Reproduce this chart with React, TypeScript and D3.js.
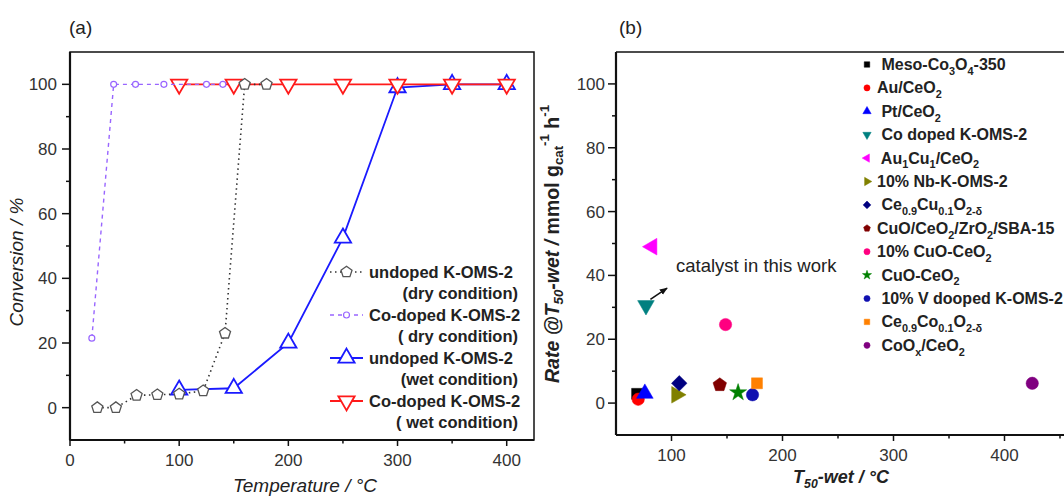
import React from 'react';
import * as d3 from 'd3';

// panel (a): conversion vs temperature
const tempUndopedDry = [25, 42, 61, 80, 100, 122, 142, 160, 180];
const convUndopedDry = [0, 0, 3.8, 4, 4.2, 5.2, 23, 100, 100];
const tempCoDry = [20, 40, 60, 86, 125, 140];
const convCoDry = [21.5, 100, 100, 100, 100, 100];
const tempWet = [100, 150, 200, 250, 300, 350, 400];
const convUndopedWet = [5.5, 6, 20, 52.5, 99, 100, 100];
const convCoWet = [100, 100, 100, 100, 100, 100, 100];

const tempTicksA = [0, 100, 200, 300, 400];
const convTicks = [0, 20, 40, 60, 80, 100];

const legendNamesA = ['undoped K-OMS-2', 'Co-doped K-OMS-2', 'undoped K-OMS-2', 'Co-doped K-OMS-2'];
const legendCondA = ['(dry condition)', '( dry condition)', '(wet condition)', '( wet condition)'];

// panel (b): rate vs T50-wet
const catalystNames = [
  ' Meso-Co_{3}O_{4}-350',
  'Au/CeO_{2}',
  ' Pt/CeO_{2}',
  ' Co doped K-OMS-2',
  ' Au_{1}Cu_{1}/CeO_{2}',
  '10% Nb-K-OMS-2',
  ' Ce_{0.9}Cu_{0.1}O_{2-δ}',
  'CuO/CeO_{2}/ZrO_{2}/SBA-15',
  '10% CuO-CeO_{2}',
  ' CuO-CeO_{2}',
  ' 10% V dooped K-OMS-2',
  ' Ce_{0.9}Co_{0.1}O_{2-δ}',
  ' CoO_{x}/CeO_{2}',
];
const catalystT50 = [69, 70, 76, 77, 82.5, 104.5, 107, 143.5, 148.7, 160, 173, 177, 425];
const catalystRate = [2.9, 1.2, 3.0, 30.6, 49, 2.6, 6.2, 5.7, 24.6, 3.3, 2.6, 6.2, 6.2];

const tempTicksB = [100, 200, 300, 400];
const rateTicks = [0, 20, 40, 60, 80, 100];

const catColors = ['#000000', '#ff0000', '#0000ff', '#008080', '#ff00ff', '#808000', '#000080',
  '#800000', '#ff0080', '#008000', '#1010b0', '#ff8000', '#800080'];
const catShapes = ['square', 'circle', 'triangle', 'triangleDown', 'triangleLeft', 'triangleRight',
  'diamond', 'pentagon', 'circle', 'star', 'circle', 'square', 'circle'];

const FONT = 'Liberation Sans, Arial, Helvetica, sans-serif';

function rich(str: string, fs: number) {
  const parts = str.split(/(_\{[^}]*\}|\^\{[^}]*\})/).filter(p => p !== '');
  let shift = 0;
  return parts.map((p, i) => {
    if (p.startsWith('_{')) {
      const dy = fs * 0.3 - shift;
      shift = fs * 0.3;
      return <tspan key={i} dy={dy} fontSize={fs * 0.68}>{p.slice(2, -1)}</tspan>;
    }
    if (p.startsWith('^{')) {
      const dy = -fs * 0.4 - shift;
      shift = -fs * 0.4;
      return <tspan key={i} dy={dy} fontSize={fs * 0.68}>{p.slice(2, -1)}</tspan>;
    }
    const dy = -shift;
    shift = 0;
    return <tspan key={i} dy={dy}>{p}</tspan>;
  });
}

function Marker({ shape, x, y, size, fill, stroke, sw = 1 }: any) {
  const rot = ({ triangleDown: 180, triangleLeft: -90, triangleRight: 90, diamond: 45 } as any)[shape] || 0;
  let d: string;
  if (shape === 'pentagon') {
    const r = Math.sqrt(size / 2.378);
    d = 'M' + d3.range(5).map(k => {
      const a = -Math.PI / 2 + k * 2 * Math.PI / 5;
      return `${r * Math.cos(a)},${r * Math.sin(a)}`;
    }).join('L') + 'Z';
  } else {
    const t = ({ square: d3.symbolSquare, circle: d3.symbolCircle, diamond: d3.symbolSquare, star: d3.symbolStar } as any)[shape] || d3.symbolTriangle;
    d = d3.symbol(t, size)() as string;
  }
  return <path d={d} transform={`translate(${x},${y}) rotate(${rot})`} fill={fill} stroke={stroke} strokeWidth={sw} />;
}

export default function App() {
  // panel (a) scales
  const xA = d3.scaleLinear().domain([0, 425]).range([70, 534]);
  const yA = d3.scaleLinear().domain([-10, 110]).range([440, 52]);
  // panel (b) scales
  const xB = d3.scaleLinear().domain([50, 500]).range([616, 1115.5]);
  const yB = d3.scaleLinear().domain([-10, 110]).range([435, 52]);

  const lineA = (xs: number[], ys: number[]) =>
    d3.line<number>().x((d, i) => xA(xs[i])).y(d => yA(d))(ys) as string;

  // drawing order: wet series first, dry on top
  const seriesA = [
    { xs: tempWet, ys: convUndopedWet, color: '#1a1aff', dash: undefined, w: 1.8, shape: 'triangle', size: 115, mfill: 'white', mstroke: '#1a1aff', msw: 1.8 },
    { xs: tempWet, ys: convCoWet, color: '#ff1a1a', dash: undefined, w: 1.8, shape: 'triangleDown', size: 115, mfill: 'white', mstroke: '#ff1a1a', msw: 1.8 },
    { xs: tempUndopedDry, ys: convUndopedDry, color: '#333333', dash: '1.5,3.5', w: 1.6, shape: 'pentagon', size: 80, mfill: 'white', mstroke: '#555555', msw: 1.3 },
    { xs: tempCoDry, ys: convCoDry, color: '#9966ff', dash: '4,4', w: 1.4, shape: 'circle', size: 28, mfill: 'white', mstroke: '#9966ff', msw: 1.2 },
  ];
  // legend order: undoped dry, co dry, undoped wet, co wet
  const legendOrder = [2, 3, 0, 1];

  const minorXA = d3.range(50, 425, 100);
  const minorYA = d3.range(-10, 110, 20).filter(v => v > -10);
  const minorXB = d3.range(150, 500, 100);
  const minorYB = minorYA;

  return (
    <svg width={1064} height={498} style={{ position: 'absolute', left: 0, top: 0, background: 'white' }} fontFamily={FONT}>
      {/* ---------- panel (a) ---------- */}
      <text x={69} y={34} fontSize={19} fill="#222">(a)</text>
      <rect x={70} y={52} width={464} height={388} fill="none" stroke="#111" strokeWidth={1.5} />
      <line x1={70} x2={534} y1={440} y2={440} stroke="#111" strokeWidth={2.2} />
      <line x1={70} x2={70} y1={52} y2={440} stroke="#111" strokeWidth={2.2} />
      {tempTicksA.map(t => (
        <g key={t}>
          <line x1={xA(t)} x2={xA(t)} y1={440} y2={446} stroke="#111" strokeWidth={1.5} />
          <text x={xA(t)} y={466} fontSize={17} textAnchor="middle" fill="#333">{t}</text>
        </g>
      ))}
      {minorXA.map(t => <line key={t} x1={xA(t)} x2={xA(t)} y1={440} y2={443.5} stroke="#111" strokeWidth={1.5} />)}
      {convTicks.map(t => (
        <g key={t}>
          <line x1={62} x2={70} y1={yA(t)} y2={yA(t)} stroke="#111" strokeWidth={1.5} />
          <text x={57} y={yA(t) + 6} fontSize={17} textAnchor="end" fill="#333">{t}</text>
        </g>
      ))}
      {minorYA.map(t => <line key={t} x1={66} x2={70} y1={yA(t)} y2={yA(t)} stroke="#111" strokeWidth={1.5} />)}
      <text x={305} y={492} fontSize={19} fontStyle="italic" textAnchor="middle" fill="#222">Temperature / °C</text>
      <text transform="translate(16,262) rotate(-90)" fontSize={19} fontStyle="italic" textAnchor="middle" dominantBaseline="central" fill="#222">Conversion / %</text>

      {seriesA.map((s, si) => (
        <g key={si}>
          <path d={lineA(s.xs, s.ys)} fill="none" stroke={s.color} strokeWidth={s.w} strokeDasharray={s.dash} />
          {s.ys.map((v, i) => (
            <Marker key={i} shape={s.shape} x={xA(s.xs[i])} y={yA(v)} size={s.size} fill={s.mfill} stroke={s.mstroke} sw={s.msw} />
          ))}
        </g>
      ))}

      {legendOrder.map((si, k) => {
        const s = seriesA[si];
        const y = 272 + k * 43;
        return (
          <g key={k}>
            <line x1={330} x2={363} y1={y} y2={y} stroke={s.color} strokeWidth={s.w} strokeDasharray={s.dash} />
            <Marker shape={s.shape} x={346.5} y={y} size={s.size} fill={s.mfill} stroke={s.mstroke} sw={s.msw} />
            <text x={369} y={y + 6} fontSize={16.5} fontWeight="bold" fill="#222">{legendNamesA[k]}</text>
            <text x={518} y={y + 27} fontSize={16.5} fontWeight="bold" textAnchor="end" fill="#222" style={{ whiteSpace: 'pre' }}>{legendCondA[k]}</text>
          </g>
        );
      })}

      {/* ---------- panel (b) ---------- */}
      <text x={619} y={34} fontSize={19} fill="#222">(b)</text>
      <line x1={616} x2={1064} y1={52} y2={52} stroke="#111" strokeWidth={1.5} />
      <line x1={616} x2={1064} y1={435} y2={435} stroke="#111" strokeWidth={2.2} />
      <line x1={616} x2={616} y1={52} y2={435} stroke="#111" strokeWidth={2.2} />
      {tempTicksB.map(t => (
        <g key={t}>
          <line x1={xB(t)} x2={xB(t)} y1={435} y2={441} stroke="#111" strokeWidth={1.5} />
          <text x={xB(t)} y={461} fontSize={17} textAnchor="middle" fill="#333">{t}</text>
        </g>
      ))}
      {minorXB.map(t => <line key={t} x1={xB(t)} x2={xB(t)} y1={435} y2={438.5} stroke="#111" strokeWidth={1.5} />)}
      {rateTicks.map(t => (
        <g key={t}>
          <line x1={608} x2={616} y1={yB(t)} y2={yB(t)} stroke="#111" strokeWidth={1.5} />
          <text x={605} y={yB(t) + 6} fontSize={17} textAnchor="end" fill="#333">{t}</text>
        </g>
      ))}
      {minorYB.map(t => <line key={t} x1={612} x2={616} y1={yB(t)} y2={yB(t)} stroke="#111" strokeWidth={1.5} />)}
      <text x={841} y={483} fontSize={18} fontWeight="bold" fontStyle="italic" textAnchor="middle" fill="#222">
        {rich('T_{50}-wet / °C', 18)}
      </text>
      <text transform="translate(552,244) rotate(-90)" fontSize={19.5} fontWeight="bold" textAnchor="middle" dominantBaseline="central" fill="#222" style={{ whiteSpace: 'pre' }}>
        <tspan fontStyle="italic">{rich('Rate @T_{50}-wet / ', 19.5)}</tspan>
        {rich('mmol g_{cat}^{-1} h^{-1}', 19.5)}
      </text>

      {catalystT50.map((t, i) => (
        <Marker key={i} shape={catShapes[i]} x={xB(t)} y={yB(catalystRate[i])} size={catShapes[i] === 'star' ? 90 : 120}
          fill={catColors[i]} stroke={catColors[i]} sw={0.5} />
      ))}

      <text x={676} y={272} fontSize={18.5} fill="#222">catalyst in this work</text>
      <defs>
        <marker id="arrowHead" viewBox="0 0 10 10" refX={9} refY={5} markerWidth={5} markerHeight={5} orient="auto">
          <path d="M0,1 L10,5 L0,9 Z" fill="#111" />
        </marker>
      </defs>
      <line x1={xB(81)} y1={yB(32.5)} x2={xB(96)} y2={yB(36)} stroke="#111" strokeWidth={1.6} markerEnd="url(#arrowHead)" />

      {catalystNames.map((name, i) => {
        const y = 64.5 + i * 23.4;
        return (
          <g key={i}>
            <Marker shape={catShapes[i]} x={867} y={y} size={catShapes[i] === 'star' ? 26 : 30} fill={catColors[i]} stroke={catColors[i]} sw={0.5} />
            <text x={877} y={y + 5.5} fontSize={16} fontWeight="bold" fill="#222" style={{ whiteSpace: 'pre' }}>{rich(name, 16)}</text>
          </g>
        );
      })}
    </svg>
  );
}
